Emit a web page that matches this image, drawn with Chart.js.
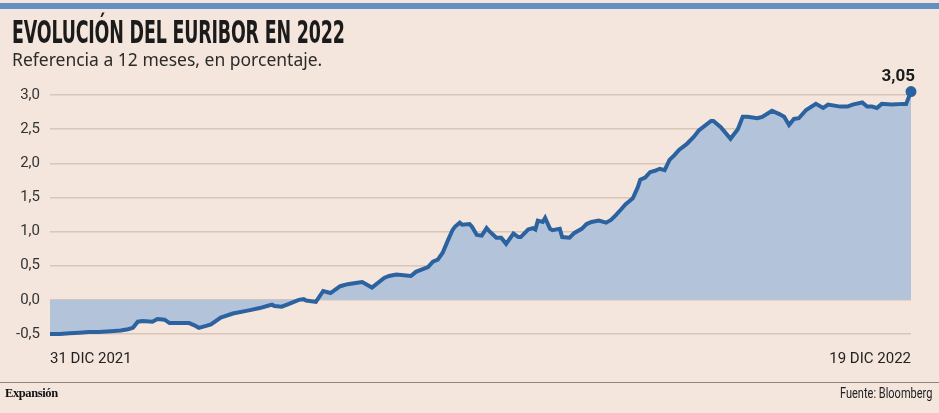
<!DOCTYPE html>
<html>
<head>
<meta charset="utf-8">
<script src="https://cdn.jsdelivr.net/npm/chart.js@4/dist/chart.umd.min.js"></script>
<style>
  html, body { margin:0; padding:0; background:#f4e6dc; }
  #wrap { position:relative; width:939px; height:413px; overflow:hidden; background:#f4e6dc; }
  #topbar { position:absolute; left:0; top:3px; width:939px; height:6px; background:#6390c0; }
  #title { position:absolute; left:12px; top:13px; font-family:"Liberation Sans Narrow","DejaVu Sans Condensed",sans-serif;
           font-weight:bold; font-size:32px; color:#1b1b1b; white-space:nowrap; transform-origin:left top; letter-spacing:-0.3px; }
  #sub { position:absolute; left:12px; top:47px; font-family:"Noto Sans","Open Sans",sans-serif; font-size:17.5px; color:#2b2b2b; white-space:nowrap; }
  #foot { position:absolute; left:0; top:382px; width:939px; height:1px; background:#8c8580; }
  #brand { position:absolute; left:5px; top:386px; font-family:"Liberation Serif","DejaVu Serif",serif; font-weight:bold; font-size:12.5px; color:#111; letter-spacing:-0.4px; }
  #src { position:absolute; left:0; top:385px; font-family:"Roboto","Noto Sans",sans-serif; font-size:14px; color:#222; white-space:nowrap; transform-origin:left top; }
  canvas { position:absolute; left:0; top:0; }
</style>
</head>
<body>
<div id="wrap">
  <div id="topbar"></div>
  <canvas id="c" width="939" height="413"></canvas>
  <div id="title">EVOLUCIÓN DEL EURIBOR EN 2022</div>
  <div id="sub">Referencia a 12 meses, en porcentaje.</div>
  <div id="foot"></div>
  <div id="brand">Expansión</div>
  <div id="src">Fuente: Bloomberg</div>
</div>
<script>
// === Datos (día desde 31/12/2021, euribor 12m %) ===
const days = [0,4,8,12,16,20,25,29,32,34,36,38,42,44,47,49,54,57,59,61,64,66,70,75,82,86,89,91,92,95,98,100,102,104,105,109,
  112,115,119,122,126,128,132,137,139,142,148,150,155,157,159,161,163,165,166,168,169,172,173,175,177,179,180,183,185,187,190,192,
  193,196,198,199,200,202,203,205,206,209,210,213,215,218,220,222,225,228,230,232,234,236,238,239,241,242,244,246,248,250,252,
  254,256,258,261,264,266,271,272,275,279,282,284,286,290,292,296,299,301,303,305,307,310,314,317,319,324,327,329,333,335,337,
  339,341,345,350,351,353];
const euribor = [-0.50,-0.50,-0.49,-0.48,-0.47,-0.47,-0.46,-0.45,-0.43,-0.41,-0.32,-0.31,-0.32,-0.28,-0.29,-0.34,-0.34,-0.34,-0.37,
  -0.41,-0.38,-0.36,-0.26,-0.20,-0.15,-0.12,-0.09,-0.07,-0.09,-0.10,-0.06,-0.03,0.00,0.01,-0.01,-0.03,
  0.13,0.10,0.20,0.23,0.25,0.26,0.18,0.32,0.35,0.37,0.35,0.41,0.48,0.56,0.59,0.69,0.86,1.02,1.07,1.13,1.10,1.11,1.07,0.95,0.94,
  1.05,1.01,0.91,0.91,0.82,0.97,0.92,
  0.92,1.03,1.05,1.03,1.16,1.14,1.20,1.04,1.02,1.04,0.92,0.91,0.98,1.04,1.11,1.14,1.16,1.13,1.17,1.24,1.32,1.40,1.46,1.49,
  1.65,1.76,1.79,1.87,1.89,1.92,1.90,
  2.05,2.12,2.20,2.28,2.39,2.48,2.62,2.62,2.53,2.36,2.50,2.68,2.68,2.66,2.68,2.77,2.72,2.68,2.56,2.65,2.66,2.78,2.87,2.81,
  2.86,2.83,2.83,2.86,2.89,2.83,2.83,
  2.81,2.87,2.86,2.87,2.87,3.05];
const xLabels = {0:'31 DIC 2021', 353:'19 DIC 2022'};
const yTicks = [-0.5,0,0.5,1,1.5,2,2.5,3];

// ajustar textos estrechos al ancho del original
const t = document.getElementById('title');
t.style.transform = 'scaleX(' + (333 / t.offsetWidth) + ')';
const src = document.getElementById('src');
src.style.left = (932 - 92) + 'px';
src.style.transform = 'scaleX(' + (92 / src.offsetWidth) + ')';

const points = days.map((d,i)=>({x:d, y:euribor[i]}));
const last = points.length - 1;
const fmt = v => v.toFixed(1).replace('.', ',');

const lastLabel = {
  id:'lastLabel',
  afterDatasetsDraw(chart){
    const el = chart.getDatasetMeta(0).data[last];
    const ctx = chart.ctx;
    ctx.save();
    ctx.font = 'bold 17px "Roboto", "Noto Sans", sans-serif';
    ctx.fillStyle = '#1b1b1b';
    ctx.textAlign = 'right';
    ctx.textBaseline = 'alphabetic';
    ctx.fillText(euribor[last].toFixed(2).replace('.', ','), el.x + 4, el.y - 11);
    ctx.restore();
  }
};

new Chart(document.getElementById('c'), {
  type:'line',
  data:{ datasets:[{
    data: points,
    borderColor:'#2c62a0',
    borderWidth:4,
    backgroundColor:'#b3c4da',
    fill:'origin',
    tension:0,
    clip:false,
    pointRadius: c => c.dataIndex === last ? 3.5 : 0,
    pointBackgroundColor:'#2c62a0',
    pointBorderColor:'#2c62a0'
  }]},
  options:{
    responsive:false,
    animation:false,
    layout:{ padding:{ left:10, right:28, top:95, bottom:34 } },
    plugins:{ legend:{display:false}, tooltip:{enabled:false} },
    scales:{
      x:{
        type:'linear', min:0, max:353,
        afterBuildTicks: s => { s.ticks = Object.keys(xLabels).map(v => ({value:+v})); },
        afterFit: s => { s.height = 45; },
        grid:{ display:false },
        border:{ display:false },
        ticks:{ align:'inner', padding:8, maxRotation:0, autoSkip:false, color:'#222',
          font:{ family:'"Roboto","Noto Sans",sans-serif', size:15 },
          callback: v => xLabels[v] || '' }
      },
      y:{
        min:-0.5, max:3,
        afterBuildTicks: s => { s.ticks = yTicks.map(v => ({value:v})); },
        afterFit: s => { s.width = 40; },
        grid:{ color:'#d8c6b8', lineWidth:1.5, drawTicks:false },
        border:{ display:false },
        ticks:{ padding:10, color:'#333',
          font:{ family:'"Roboto","Noto Sans",sans-serif', size:15 },
          callback: v => fmt(v) }
      }
    }
  },
  plugins:[lastLabel]
});
</script>
</body>
</html>
